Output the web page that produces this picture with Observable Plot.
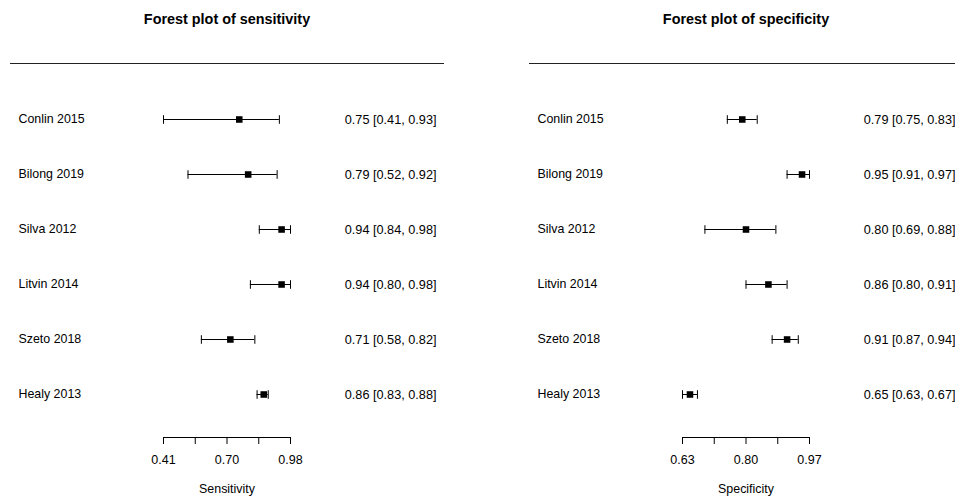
<!DOCTYPE html>
<html>
<head>
<meta charset="utf-8">
<script src="https://cdn.jsdelivr.net/npm/d3@7"></script>
<script src="https://cdn.jsdelivr.net/npm/@observablehq/plot@0.6"></script>
<style>
  html, body { margin: 0; padding: 0; background: #fff; overflow: hidden; }
  #wrap { display: flex; width: 955px; height: 496px; overflow: hidden; }
  #wrap > svg { flex: none; display: block; }
</style>
</head>
<body>
<div id="wrap"></div>
<script>
// ---- data ----
const studies = ["Conlin 2015", "Bilong 2019", "Silva 2012", "Litvin 2014", "Szeto 2018", "Healy 2013"];

const sensEst = [0.75, 0.79, 0.94, 0.94, 0.71, 0.86];
const sensLow = [0.41, 0.52, 0.84, 0.80, 0.58, 0.83];
const sensHigh = [0.93, 0.92, 0.98, 0.98, 0.82, 0.88];

const specEst = [0.79, 0.95, 0.80, 0.86, 0.91, 0.65];
const specLow = [0.75, 0.91, 0.69, 0.80, 0.87, 0.63];
const specHigh = [0.83, 0.97, 0.88, 0.91, 0.94, 0.67];

const sensTicks = [0.41, 0.5525, 0.695, 0.8375, 0.98];
const sensTickLabels = ["0.41", "", "0.70", "", "0.98"];
const specTicks = [0.63, 0.715, 0.80, 0.885, 0.97];
const specTickLabels = ["0.63", "", "0.80", "", "0.97"];

const panelTitles = ["Forest plot of sensitivity", "Forest plot of specificity"];
const axisTitles = ["Sensitivity", "Specificity"];

// ---- drawing ----
const FONT = "'Liberation Sans', Arial, Helvetica, sans-serif";
const W = 519, H = 496;
const ML = 10, MR = 76, MT = 63, MB = 59;
const AX0 = 163, AX1 = 290;

const capSymbol = {
  draw(ctx, size) {
    const h = Math.sqrt(size / Math.PI);
    ctx.moveTo(0, -h);
    ctx.lineTo(0, h);
  }
};

function panel(est, lo, hi, ticks, tickLabels, title, axTitle) {
  const rows = studies.map((s, i) => ({
    study: s, est: est[i], lo: lo[i], hi: hi[i],
    label: `${est[i].toFixed(2)} [${lo[i].toFixed(2)}, ${hi[i].toFixed(2)}]`
  }));
  const caps = rows.flatMap(d => [{study: d.study, v: d.lo}, {study: d.study, v: d.hi}]);
  return Plot.plot({
    width: W, height: H,
    marginLeft: ML, marginRight: MR, marginTop: MT, marginBottom: MB,
    style: {fontFamily: FONT, fontSize: "12.4px", color: "#000", background: "#fff", overflow: "visible"},
    x: {type: "linear", domain: [ticks[0], ticks[ticks.length - 1]], range: [AX0, AX1], axis: null},
    y: {type: "point", domain: studies, range: [118, 394], padding: 0, axis: null},
    marks: [
      Plot.frame({anchor: "top", stroke: "#222", strokeWidth: 1}),
      Plot.frame({anchor: "bottom", insetLeft: AX0 - ML, insetRight: (W - MR) - AX1, stroke: "#000", strokeWidth: 1}),
      Plot.axisX({
        ticks, tickSize: 7, tickPadding: 11, label: null,
        tickFormat: d => tickLabels[ticks.indexOf(d)],
        fontSize: 12.5, stroke: "#000", fill: "#000"
      }),
      Plot.ruleY(rows, {y: "study", x1: "lo", x2: "hi", stroke: "#000", strokeWidth: 1}),
      Plot.dot(caps, {x: "v", y: "study", symbol: capSymbol, r: 4.3, stroke: "#000", strokeWidth: 1, fill: "none"}),
      Plot.dot(rows, {x: "est", y: "study", symbol: "square", r: 3.7, fill: "#000", stroke: "none"}),
      Plot.text(rows, {y: "study", text: "study", frameAnchor: "left", textAnchor: "start", dx: 8, fill: "#000", fontSize: 12.4}),
      Plot.text(rows, {y: "study", text: "label", frameAnchor: "right", textAnchor: "end", dx: -7, fill: "#000", fontSize: 12.7}),
      Plot.text([title], {frameAnchor: "top", lineAnchor: "bottom", dy: -39.5, fontWeight: "bold", fontSize: 14.4, fill: "#000"}),
      Plot.text([axTitle], {frameAnchor: "bottom", lineAnchor: "bottom", dy: 55, fontSize: 12.4, fill: "#000"})
    ]
  });
}

const wrap = document.getElementById("wrap");
wrap.append(panel(sensEst, sensLow, sensHigh, sensTicks, sensTickLabels, panelTitles[0], axisTitles[0]));
wrap.append(panel(specEst, specLow, specHigh, specTicks, specTickLabels, panelTitles[1], axisTitles[1]));
</script>
</body>
</html>
